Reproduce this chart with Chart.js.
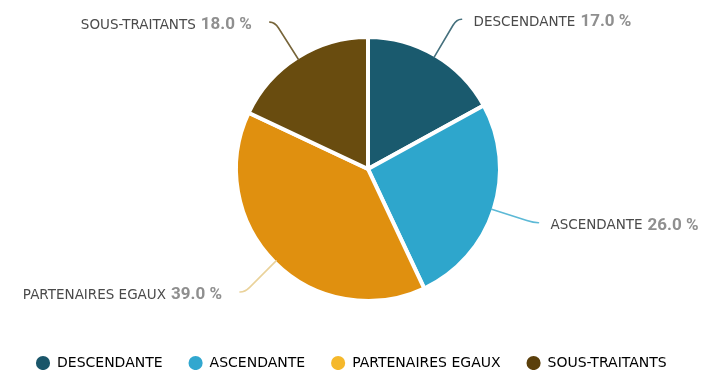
<!DOCTYPE html>
<html>
<head>
<meta charset="utf-8">
<script src="https://cdn.jsdelivr.net/npm/chart.js@4.4.0/dist/chart.umd.min.js"></script>
<style>
  html, body { margin: 0; padding: 0; background: #fff; }
  #wrap { width: 726px; height: 370px; position: relative; }
</style>
</head>
<body>
<div id="wrap"><canvas id="pie-chart"></canvas></div>
<script>
// repartition des relations
var categories = ['DESCENDANTE', 'ASCENDANTE', 'PARTENAIRES EGAUX', 'SOUS-TRAITANTS'];
var pourcentages = [17.0, 26.0, 39.0, 18.0];

var couleurs = ['#1a5a6e', '#2ea6cc', '#e0900f', '#694c0f'];
var couleursLegende = ['#1a566a', '#31a7cf', '#f5b82b', '#5a3f0b'];
var couleursLignes = ['#45707d', '#5cb9d6', '#ead29a', '#77653a'];

var police = '"DejaVu Sans"';

// etiquettes avec ligne de rappel
var etiquettes = {
  id: 'etiquettes',
  afterDatasetsDraw: function(chart) {
    var ctx = chart.ctx;
    var meta = chart.getDatasetMeta(0);
    var valeurs = chart.data.datasets[0].data;
    meta.data.forEach(function(arc, i) {
      var a = (arc.startAngle + arc.endAngle) / 2;
      var r = arc.outerRadius;
      var cos = Math.cos(a), sin = Math.sin(a);
      var droite = cos >= 0;
      var sens = droite ? 1 : -1;

      var x0 = arc.x + cos * (r - 2), y0 = arc.y + sin * (r - 2);
      var x1 = arc.x + cos * (r + 35), y1 = arc.y + sin * (r + 35);
      var x2 = arc.x + cos * (r + 42), y2 = arc.y + sin * (r + 42);
      var x3 = x2 + sens * 5;

      ctx.save();
      ctx.strokeStyle = couleursLignes[i];
      ctx.lineWidth = 1.6;
      ctx.lineCap = 'round';
      ctx.beginPath();
      ctx.moveTo(x0, y0);
      ctx.lineTo(x1, y1);
      ctx.quadraticCurveTo(x2, y2, x3, y2);
      ctx.stroke();

      var nom = chart.data.labels[i];
      var pct = valeurs[i].toFixed(1) + ' %';
      var fNom = '13.5px ' + police;
      var fPct = 'bold 17px Roboto';
      ctx.font = fNom;
      var wNom = ctx.measureText(nom).width;
      ctx.font = fPct;
      var wPct = ctx.measureText(pct).width;
      var ecart = 5;
      var xt = droite ? x3 + 12 : x3 - 18 - (wNom + ecart + wPct);
      var yt = y2 + 3;

      ctx.textBaseline = 'middle';
      ctx.textAlign = 'left';
      ctx.font = fNom;
      ctx.fillStyle = '#4a4a4a';
      ctx.fillText(nom, xt, yt);
      ctx.font = fPct;
      ctx.fillStyle = '#8f8f8f';
      ctx.fillText(pct, xt + wNom + ecart, yt);
      ctx.restore();
    });
  }
};

var grafica = document.getElementById('pie-chart');
var piechart = new Chart(grafica, {
  type: 'pie',
  data: {
    labels: categories,
    datasets: [{
      data: pourcentages,
      backgroundColor: couleurs,
      borderColor: '#ffffff',
      borderWidth: 4,
      hoverOffset: 0
    }]
  },
  options: {
    responsive: true,
    maintainAspectRatio: false,
    animation: false,
    radius: 132,
    layout: { padding: { top: 8, bottom: -10, left: 10, right: 0 } },
    plugins: {
      tooltip: { enabled: false },
      legend: {
        position: 'bottom',
        align: 'start',
        labels: {
          usePointStyle: true,
          pointStyle: 'circle',
          boxHeight: 10,
          padding: 26,
          color: '#444444',
          font: { family: police, size: 14 },
          generateLabels: function(chart) {
            return chart.data.labels.map(function(l, i) {
              return {
                text: l,
                fillStyle: couleursLegende[i],
                strokeStyle: couleursLegende[i],
                lineWidth: 0,
                pointStyle: 'circle',
                hidden: false,
                index: i
              };
            });
          }
        }
      }
    }
  },
  plugins: [etiquettes]
});
</script>
</body>
</html>
